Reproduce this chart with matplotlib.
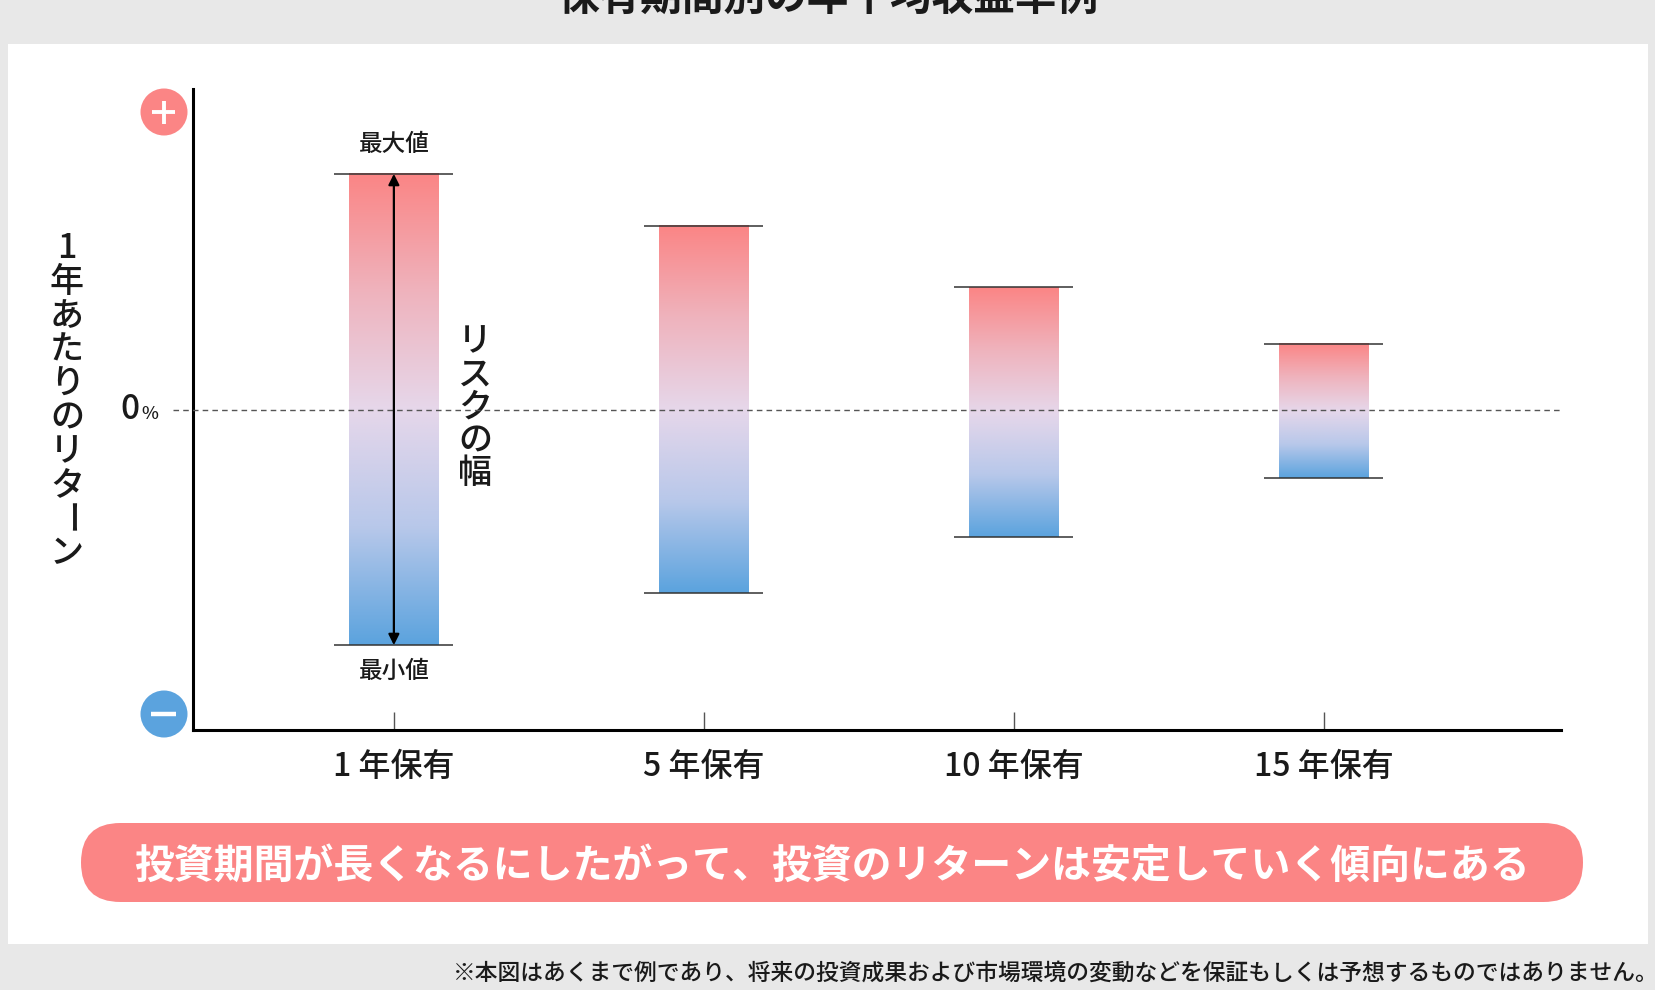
import numpy as np
import matplotlib
matplotlib.use('Agg')
import matplotlib.pyplot as plt
from matplotlib.colors import LinearSegmentedColormap
from matplotlib.patches import Rectangle, Circle, FancyBboxPatch

plt.rcParams['font.family'] = ['Noto Sans CJK JP', 'DejaVu Sans']
plt.rcParams['font.weight'] = 'medium'

W, H = 1656, 990

# example values (annual return per holding period, %)
periods = ['1 年保有', '5 年保有', '10 年保有', '15 年保有']
max_return = [50, 39, 26, 14]
min_return = [-50, -39, -27, -14.5]

title = '保有期間別の年平均収益率例'
ylabel = '1年あたりのリターン'
risk_label = 'リスクの幅'
message = '投資期間が長くなるにしたがって、投資のリターンは安定していく傾向にある'
note = '※本図はあくまで例であり、将来の投資成果および市場環境の変動などを保証もしくは予想するものではありません。'

PINK = '#fb8585'
BLUE = '#5ba3de'
TEXT = '#1a1a1a'

cmap = LinearSegmentedColormap.from_list('risk', [BLUE, '#b8c8ea', '#e6d7ea', '#efb3bd', PINK])

fig = plt.figure(figsize=(W / 100, H / 100), dpi=100, facecolor='#e8e8e8')

# background layer in pixel coordinates
bg = fig.add_axes([0, 0, 1, 1], zorder=0)
bg.set_xlim(0, W)
bg.set_ylim(H, 0)
bg.axis('off')

bg.add_patch(Rectangle((8, 44), 1640, 900, facecolor='white', edgecolor='none'))
bg.text(828, 10, title, ha='center', va='baseline', fontsize=30, fontweight='bold', color=TEXT)

# plus / minus markers
bg.add_patch(Circle((164, 112), 23.5, facecolor=PINK, edgecolor='none'))
bg.plot([152.5, 175.5], [112, 112], color='white', lw=2.8, solid_capstyle='butt')
bg.plot([164, 164], [100.5, 123.5], color='white', lw=2.8, solid_capstyle='butt')
bg.add_patch(Circle((164, 714), 23.5, facecolor=BLUE, edgecolor='none'))
bg.plot([151.5, 176.5], [714, 714], color='white', lw=3.2, solid_capstyle='butt')

# 0% label
bg.text(140, 419, '0', ha='right', va='baseline', fontsize=24, color=TEXT)
bg.text(141, 419, '%', ha='left', va='baseline', fontsize=13, color=TEXT)

# vertical y label
for k, ch in enumerate(ylabel):
    bg.text(67, 249 + k * 33.8, ch, ha='center', va='center', fontsize=24.5, color=TEXT,
            rotation=-90 if ch == 'ー' else 0)

# vertical risk label
for k, ch in enumerate(risk_label):
    bg.text(475, 342 + k * 33, ch, ha='center', va='center', fontsize=24.5, color=TEXT)

# message banner
bg.add_patch(FancyBboxPatch((81, 823), 1502, 79, boxstyle='round,pad=0,rounding_size=39.5',
                            facecolor=PINK, edgecolor='none'))
bg.text(832, 878, message, ha='center', va='baseline', fontsize=28.7, fontweight='bold', color='white')

# footnote
bg.text(1659, 980, note, ha='right', va='baseline', fontsize=16.4, color=TEXT)

# main chart
ax = fig.add_axes([193 / W, 1 - 730 / H, (1561 - 193) / W, (730 - 89) / H], zorder=1)
ax.patch.set_visible(False)

x = np.arange(len(periods))
grad = np.linspace(0, 1, 256).reshape(-1, 1)
bar_w = 0.29
cap_w = 0.384
for i in x:
    ax.imshow(grad, cmap=cmap, extent=[i - bar_w / 2, i + bar_w / 2, min_return[i], max_return[i]],
              aspect='auto', origin='lower', zorder=2, interpolation='bilinear')
    ax.hlines([min_return[i], max_return[i]], i - cap_w / 2, i + cap_w / 2, color='#333333', lw=1.1, zorder=3)

xl = (-0.648, 3.765)
ax.plot([-0.713, xl[1]], [0, 0], color='#555555', lw=1, ls=(0, (4, 3)), clip_on=False, zorder=4)

ax.annotate('', xy=(0, max_return[0]), xytext=(0, min_return[0]),
            arrowprops=dict(arrowstyle='<|-|>', color='black', lw=1.6, shrinkA=0, shrinkB=0,
                            mutation_scale=16), zorder=5)
ax.annotate('最大値', (0, max_return[0]), xytext=(0, 21), textcoords='offset points',
            ha='center', va='center', fontsize=17, color=TEXT)
ax.annotate('最小値', (0, min_return[0]), xytext=(0, -19), textcoords='offset points',
            ha='center', va='center', fontsize=17, color=TEXT)

ax.set_xlim(*xl)
ax.set_ylim(-68, 68)
ax.set_yticks([])
ax.set_xticks(x)
ax.set_xticklabels(periods, fontsize=23, color=TEXT)
ax.tick_params(axis='x', direction='in', length=13, width=1, color='#555555', pad=15)
for side in ['top', 'right']:
    ax.spines[side].set_visible(False)
for side in ['left', 'bottom']:
    ax.spines[side].set_linewidth(2.2)
    ax.spines[side].set_color('black')

fig.savefig('out.png', dpi=100, facecolor=fig.get_facecolor())
